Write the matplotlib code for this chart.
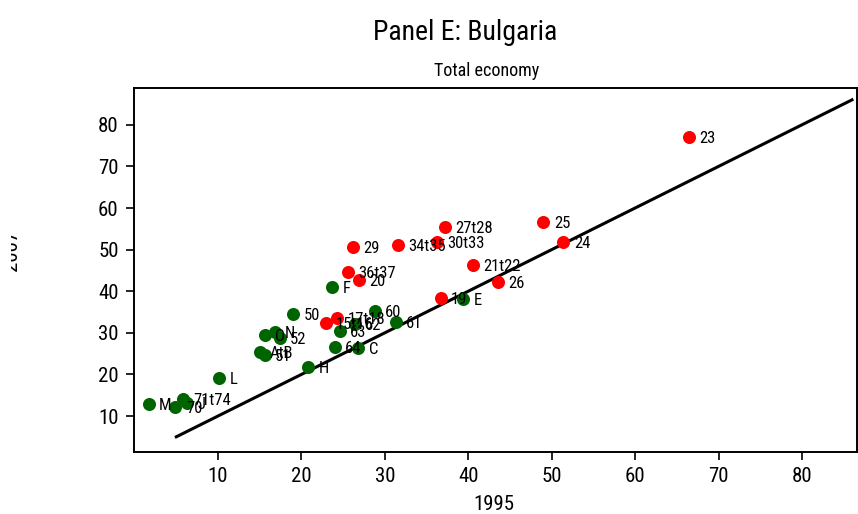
import numpy as np
import matplotlib
matplotlib.use("Agg")
from matplotlib import pyplot as plt
from matplotlib.transforms import Bbox

plt.rcParams['font.family'] = ['Roboto Condensed', 'Liberation Sans', 'DejaVu Sans']

# manufacturing industries (red)
red_labels = ["23", "25", "24", "27t28", "30t33", "34t35", "29", "21t22",
              "26", "36t37", "20", "19", "17t18", "15t16"]
red_x = [66.5, 49.0, 51.4, 37.2, 36.2, 31.6, 26.2, 40.6,
         43.6, 25.6, 26.9, 36.7, 24.3, 22.9]
red_y = [77.0, 56.6, 51.8, 55.4, 51.8, 51.1, 50.6, 46.3,
         42.2, 44.6, 42.7, 38.4, 33.5, 32.3]

# other sectors (green)
green_labels = ["E", "F", "60", "61", "50", "63", "62", "64", "C", "H", "L",
                "O", "N", "52", "AtB", "51", "M", "70", "71t74", "J"]
green_x = [39.4, 23.7, 28.8, 31.3, 19.0, 24.6, 26.4, 24.0, 26.8, 20.8, 10.1,
           15.6, 16.8, 17.4, 15.0, 15.6, 1.7, 4.9, 5.8, 6.3]
green_y = [38.1, 41.0, 35.2, 32.6, 34.5, 30.5, 32.1, 26.6, 26.3, 21.8, 19.1,
           29.4, 30.2, 28.7, 25.4, 24.6, 12.9, 12.1, 14.1, 13.1]

diag = [5, 86]
xticks = [10, 20, 30, 40, 50, 60, 70, 80]
yticks = [10, 20, 30, 40, 50, 60, 70, 80]

fig = plt.figure(figsize=(8.58, 5.14), dpi=100)
ax = fig.add_axes([134/858, 1-452/514, (857-134)/858, (452-88)/514])

ax.plot(diag, diag, color='black', lw=2.2, zorder=1)
ax.scatter(green_x, green_y, s=88, color='#006400', zorder=2, linewidths=0)
ax.scatter(red_x, red_y, s=88, color='#ff0000', zorder=2, linewidths=0)

for lab, x, y in zip(green_labels + red_labels, green_x + red_x, green_y + red_y):
    ax.annotate(lab, (x, y), xytext=(7.5, -1), textcoords='offset points',
                ha='left', va='center', fontsize=12, zorder=3)

ax.set_xlim(-0.07, 86.6)
ax.set_ylim(1.35, 88.85)
ax.set_xticks(xticks)
ax.set_yticks(yticks)
ax.tick_params(direction='out', length=6, width=1.2, labelsize=15, pad=5)
for s in ax.spines.values():
    s.set_linewidth(1.4)

fig.text(465/858, 1-32/514, "Panel E: Bulgaria", ha='center', va='center', fontsize=20)
fig.text(487/858, 1-71/514, "Total economy", ha='center', va='center', fontsize=13)
fig.text(494/858, 1-505/514, "1995", ha='center', va='center', fontsize=15)
# y label sits partly off the left margin
yl = fig.text(12/858, 1-250/514, "2007", ha='center', va='center', fontsize=15, rotation=90)
yl.set_clip_box(Bbox([[11, 0], [60, 514]]))
yl.set_clip_on(True)

fig.savefig("out.png", dpi=100)
